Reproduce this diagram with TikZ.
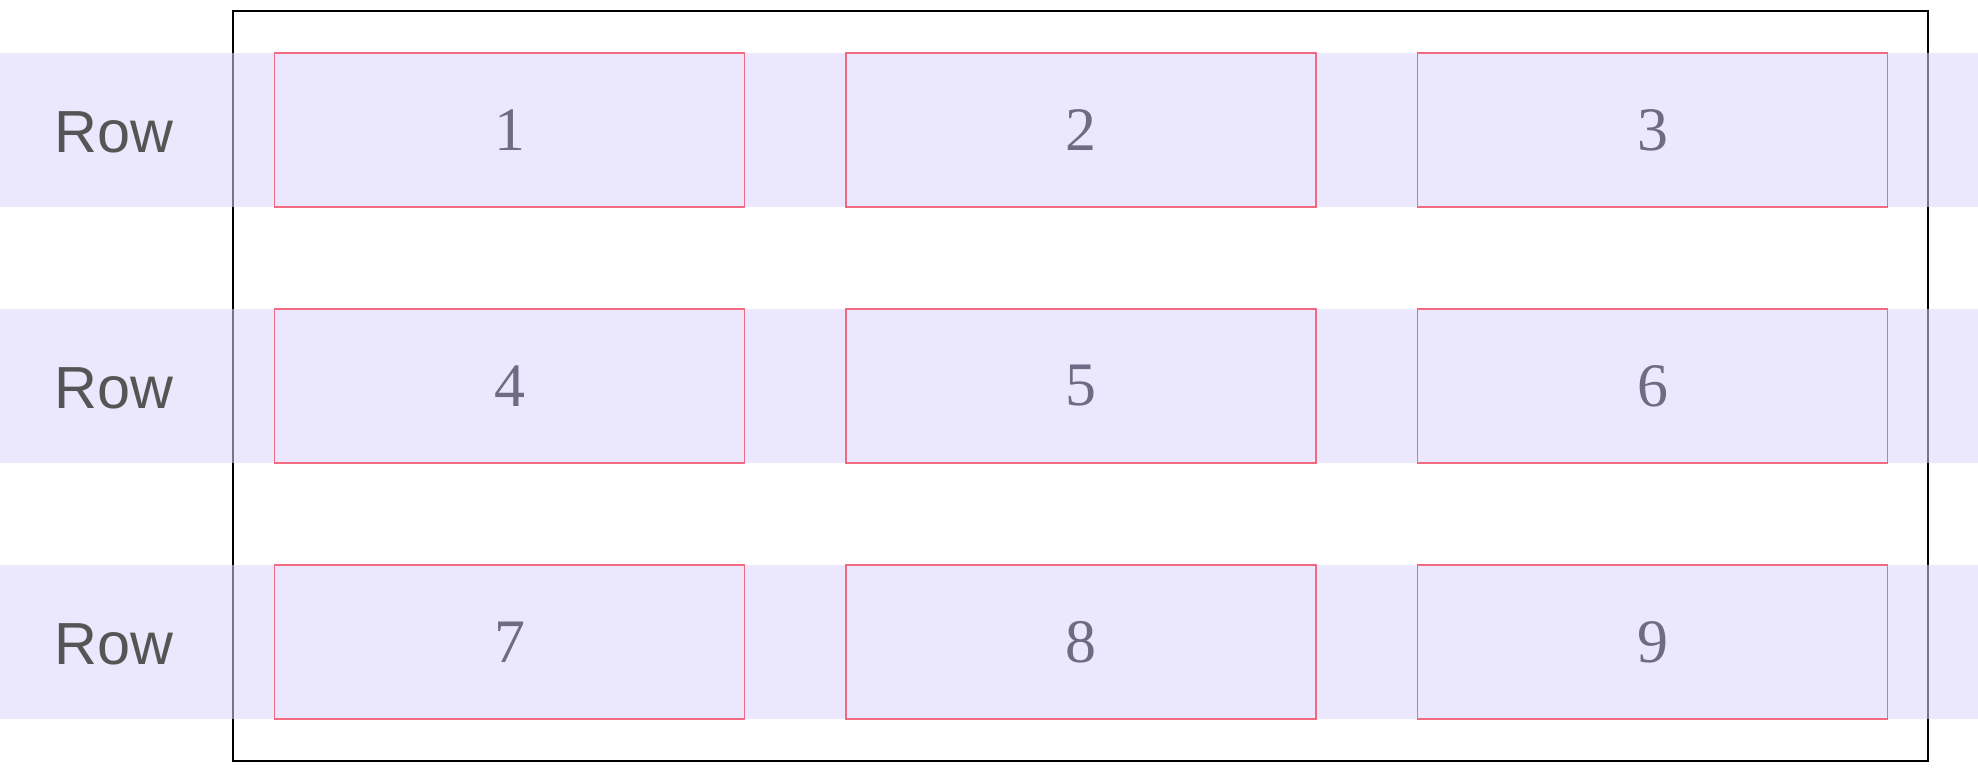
\documentclass[tikz,border=0pt]{standalone}
\usepackage{fontspec}
\setmainfont{Liberation Serif}
\newfontfamily\rowfont{Liberation Sans}
\definecolor{bandfill}{RGB}{218,214,252}
\definecolor{cellline}{RGB}{240,107,130}
\definecolor{celltext}{RGB}{112,107,133}
\definecolor{rowtext}{RGB}{85,85,85}
\begin{document}
\begin{tikzpicture}[
    cell/.style={draw=cellline,line width=0.4pt,minimum width=4.7cm,minimum height=1.54cm,inner sep=0pt,text=celltext,font=\fontsize{17.6}{20}\selectfont},
    rowlabel/.style={text=rowtext,inner sep=0pt,font=\rowfont\fontsize{16.9}{20}\selectfont}]
  \useasboundingbox (0,0) rectangle (19.78,-7.78);
  \draw[line width=0.4pt] (2.33,-0.11) rectangle (19.28,-7.61);
  % row bands
  \foreach \r in {0,1,2} {
    \fill[bandfill,fill opacity=0.55] (0,{-0.53-2.56*\r}) rectangle (19.78,{-2.07-2.56*\r});
    \node[rowlabel] (row\r) at (1.14,{-1.32-2.56*\r}) {Row};
  }
  % cells
  \foreach \r in {0,1,2} \foreach \c in {1,2,3} {
    \pgfmathtruncatemacro\idx{3*\r+\c}
    \node[cell] (cell\idx) at ({5.095+5.715*(\c-1)},{-1.30-2.56*\r}) {\idx};
  }
\end{tikzpicture}
\end{document}
